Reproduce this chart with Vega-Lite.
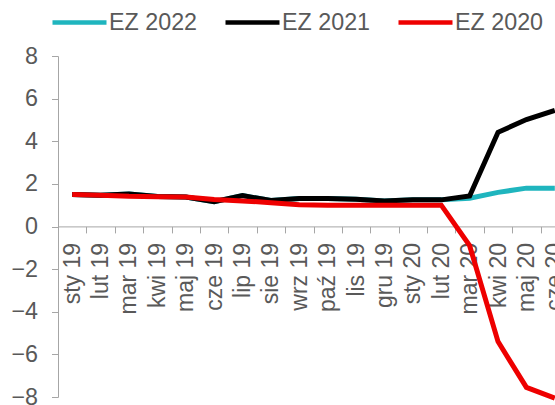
{
  "$schema": "https://vega.github.io/schema/vega-lite/v6.json",
  "width": 497,
  "height": 341,
  "autosize": {"type": "none"},
  "padding": {"left": 58, "top": 56, "right": 0, "bottom": 8},
  "background": "white",
  "config": {"view": {"stroke": null}, "font": "Liberation Sans"},
  "data": {
    "values": [
      {"month": "sty 19", "series": "EZ 2022", "value": 1.5},
      {"month": "lut 19", "series": "EZ 2022", "value": 1.47},
      {"month": "mar 19", "series": "EZ 2022", "value": 1.53},
      {"month": "kwi 19", "series": "EZ 2022", "value": 1.41},
      {"month": "maj 19", "series": "EZ 2022", "value": 1.38},
      {"month": "cze 19", "series": "EZ 2022", "value": 1.16},
      {"month": "lip 19", "series": "EZ 2022", "value": 1.45},
      {"month": "sie 19", "series": "EZ 2022", "value": 1.22},
      {"month": "wrz 19", "series": "EZ 2022", "value": 1.31},
      {"month": "paź 19", "series": "EZ 2022", "value": 1.31},
      {"month": "lis 19", "series": "EZ 2022", "value": 1.28},
      {"month": "gru 19", "series": "EZ 2022", "value": 1.2},
      {"month": "sty 20", "series": "EZ 2022", "value": 1.25},
      {"month": "lut 20", "series": "EZ 2022", "value": 1.25},
      {"month": "mar 20", "series": "EZ 2022", "value": 1.33},
      {"month": "kwi 20", "series": "EZ 2022", "value": 1.6},
      {"month": "maj 20", "series": "EZ 2022", "value": 1.8},
      {"month": "cze 20", "series": "EZ 2022", "value": 1.8},
      {"month": "sty 19", "series": "EZ 2021", "value": 1.5},
      {"month": "lut 19", "series": "EZ 2021", "value": 1.47},
      {"month": "mar 19", "series": "EZ 2021", "value": 1.53},
      {"month": "kwi 19", "series": "EZ 2021", "value": 1.41},
      {"month": "maj 19", "series": "EZ 2021", "value": 1.38},
      {"month": "cze 19", "series": "EZ 2021", "value": 1.16},
      {"month": "lip 19", "series": "EZ 2021", "value": 1.45},
      {"month": "sie 19", "series": "EZ 2021", "value": 1.22},
      {"month": "wrz 19", "series": "EZ 2021", "value": 1.31},
      {"month": "paź 19", "series": "EZ 2021", "value": 1.31},
      {"month": "lis 19", "series": "EZ 2021", "value": 1.28},
      {"month": "gru 19", "series": "EZ 2021", "value": 1.2},
      {"month": "sty 20", "series": "EZ 2021", "value": 1.25},
      {"month": "lut 20", "series": "EZ 2021", "value": 1.25},
      {"month": "mar 20", "series": "EZ 2021", "value": 1.43},
      {"month": "kwi 20", "series": "EZ 2021", "value": 4.42},
      {"month": "maj 20", "series": "EZ 2021", "value": 5.02},
      {"month": "cze 20", "series": "EZ 2021", "value": 5.45},
      {"month": "sty 19", "series": "EZ 2020", "value": 1.5},
      {"month": "lut 19", "series": "EZ 2020", "value": 1.47},
      {"month": "mar 19", "series": "EZ 2020", "value": 1.42},
      {"month": "kwi 19", "series": "EZ 2020", "value": 1.4},
      {"month": "maj 19", "series": "EZ 2020", "value": 1.38},
      {"month": "cze 19", "series": "EZ 2020", "value": 1.27},
      {"month": "lip 19", "series": "EZ 2020", "value": 1.2},
      {"month": "sie 19", "series": "EZ 2020", "value": 1.12},
      {"month": "wrz 19", "series": "EZ 2020", "value": 1.02},
      {"month": "paź 19", "series": "EZ 2020", "value": 1.0},
      {"month": "lis 19", "series": "EZ 2020", "value": 1.0},
      {"month": "gru 19", "series": "EZ 2020", "value": 1.0},
      {"month": "sty 20", "series": "EZ 2020", "value": 1.0},
      {"month": "lut 20", "series": "EZ 2020", "value": 1.0},
      {"month": "mar 20", "series": "EZ 2020", "value": -0.9},
      {"month": "kwi 20", "series": "EZ 2020", "value": -5.4},
      {"month": "maj 20", "series": "EZ 2020", "value": -7.55},
      {"month": "cze 20", "series": "EZ 2020", "value": -8.05}
    ]
  },
  "mark": {"type": "line", "strokeWidth": 5, "clip": false},
  "encoding": {
    "x": {
      "field": "month",
      "type": "ordinal",
      "sort": ["sty 19", "lut 19", "mar 19", "kwi 19", "maj 19", "cze 19", "lip 19", "sie 19", "wrz 19", "paź 19", "lis 19", "gru 19", "sty 20", "lut 20", "mar 20", "kwi 20", "maj 20", "cze 20"],
      "bandPosition": 0.5,
      "scale": {"type": "band", "paddingInner": 0, "paddingOuter": 0, "range": [0, 511]},
      "axis": {
        "orient": "bottom",
        "offset": -170.6,
        "title": null,
        "tickBand": "extent",
        "domainColor": "#a6a6a6",
        "tickColor": "#a6a6a6",
        "tickSize": 6.5,
        "labelAngle": -90,
        "labelAlign": "right",
        "labelBaseline": "middle",
        "labelPadding": 9.5,
        "labelFontSize": 23,
        "labelColor": "#595959",
        "labelFont": "Liberation Sans",
        "labelOverlap": false,
        "labelBound": false,
        "grid": false,
        "zindex": 0
      }
    },
    "y": {
      "field": "value",
      "type": "quantitative",
      "scale": {"domain": [-8, 8], "nice": false, "zero": false},
      "axis": {
        "title": null,
        "values": [-8, -6, -4, -2, 0, 2, 4, 6, 8],
        "grid": false,
        "domainColor": "#a6a6a6",
        "tickColor": "#a6a6a6",
        "tickSize": 6.5,
        "labelPadding": 14,
        "labelFontSize": 23.3,
        "labelColor": "#595959",
        "labelFont": "Liberation Sans",
        "zindex": 0
      }
    },
    "color": {
      "field": "series",
      "type": "nominal",
      "sort": ["EZ 2022", "EZ 2021", "EZ 2020"],
      "scale": {"domain": ["EZ 2022", "EZ 2021", "EZ 2020"], "range": ["#1fb5be", "#000000", "#ee0000"]},
      "legend": {
        "orient": "none",
        "direction": "horizontal",
        "legendX": -8,
        "legendY": -63,
        "title": null,
        "symbolType": "stroke",
        "symbolSize": 2916,
        "symbolStrokeWidth": 4.5,
        "labelFontSize": 23.3,
        "labelColor": "#595959",
        "labelFont": "Liberation Sans",
        "labelOffset": 0,
        "columnPadding": 18,
        "padding": 0
      }
    },
    "order": {"value": null}
  }
}
